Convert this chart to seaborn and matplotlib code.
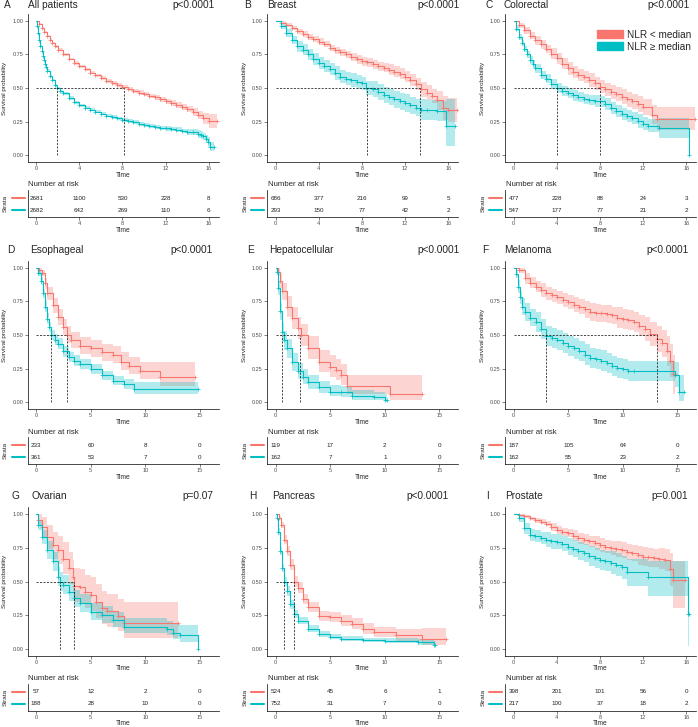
import numpy as np
import pandas as pd
import matplotlib.pyplot as plt
import seaborn as sns
from matplotlib.patches import Patch
from matplotlib.transforms import blended_transform_factory

sns.set_style('ticks')
plt.rcParams['font.family'] = ['Liberation Sans', 'DejaVu Sans']

RED = '#F8766D'
TEAL = '#00BFC4'

# ---------------- data ----------------
# A  All patients
a_red_t = [0, 0.25, 0.5, 0.75, 1, 1.25, 1.5, 1.75, 2, 2.5, 3, 3.5, 4, 4.5, 5, 5.5, 6, 6.5, 7, 7.5, 8, 8.5, 9, 9.5, 10,
           10.5, 11, 11.5, 12, 12.5, 13, 13.5, 14, 14.5, 15, 15.5, 16, 16.8]
a_red_s = [1.0, 0.975, 0.945, 0.915, 0.885, 0.86, 0.835, 0.81, 0.785, 0.75, 0.715, 0.685, 0.66, 0.64, 0.615, 0.595,
           0.575, 0.555, 0.54, 0.52, 0.505, 0.49, 0.48, 0.465, 0.455, 0.44, 0.43, 0.415, 0.40, 0.39, 0.375, 0.36,
           0.345, 0.325, 0.30, 0.275, 0.255, 0.255]
a_red_cl = [1.0, 0.969, 0.939, 0.909, 0.879, 0.85, 0.825, 0.80, 0.775, 0.74, 0.705, 0.673, 0.648, 0.628, 0.603, 0.583,
            0.563, 0.54, 0.525, 0.505, 0.49, 0.475, 0.465, 0.447, 0.437, 0.422, 0.412, 0.397, 0.382, 0.368, 0.353,
            0.338, 0.323, 0.295, 0.27, 0.235, 0.205, 0.20]
a_red_cu = [1.0, 0.981, 0.951, 0.921, 0.891, 0.87, 0.845, 0.82, 0.795, 0.76, 0.725, 0.697, 0.672, 0.652, 0.627, 0.607,
            0.587, 0.57, 0.555, 0.535, 0.52, 0.505, 0.495, 0.483, 0.473, 0.458, 0.448, 0.433, 0.418, 0.412, 0.397,
            0.382, 0.367, 0.355, 0.33, 0.315, 0.305, 0.31]
a_teal_t = [0, 0.1, 0.2, 0.3, 0.4, 0.5, 0.6, 0.7, 0.8, 0.9, 1.0, 1.25, 1.5, 1.75, 1.9, 2.25, 2.5, 3, 3.5, 4, 4.5, 5,
            5.5, 6, 6.5, 7, 7.5, 8, 8.5, 9, 9.5, 10, 10.5, 11, 11.5, 12, 12.5, 13, 13.5, 14, 14.5, 15, 15.3, 15.5,
            15.7, 15.9, 16.15, 16.5]
a_teal_s = [1.0, 0.96, 0.91, 0.86, 0.815, 0.775, 0.74, 0.71, 0.68, 0.655, 0.63, 0.59, 0.56, 0.52, 0.50, 0.475, 0.46,
            0.425, 0.395, 0.37, 0.355, 0.34, 0.325, 0.31, 0.295, 0.285, 0.275, 0.265, 0.255, 0.245, 0.235, 0.225,
            0.22, 0.21, 0.205, 0.20, 0.195, 0.19, 0.18, 0.175, 0.17, 0.16, 0.15, 0.14, 0.12, 0.10, 0.065, 0.065]
a_teal_cl = [1.0, 0.953, 0.903, 0.853, 0.808, 0.768, 0.733, 0.703, 0.673, 0.648, 0.62, 0.58, 0.55, 0.51, 0.49, 0.465,
             0.45, 0.413, 0.383, 0.358, 0.343, 0.328, 0.313, 0.298, 0.283, 0.273, 0.263, 0.25, 0.24, 0.23, 0.22, 0.21,
             0.205, 0.195, 0.19, 0.182, 0.177, 0.172, 0.162, 0.153, 0.148, 0.132, 0.122, 0.112, 0.092, 0.065, 0.03,
             0.03]
a_teal_cu = [1.0, 0.967, 0.917, 0.867, 0.822, 0.782, 0.747, 0.717, 0.687, 0.662, 0.64, 0.60, 0.57, 0.53, 0.51, 0.485,
             0.47, 0.437, 0.407, 0.382, 0.367, 0.352, 0.337, 0.322, 0.307, 0.297, 0.287, 0.28, 0.27, 0.26, 0.25, 0.24,
             0.235, 0.225, 0.22, 0.218, 0.213, 0.208, 0.198, 0.197, 0.192, 0.188, 0.178, 0.168, 0.148, 0.135, 0.10,
             0.10]

# B  Breast
b_red_t = [0, 0.5, 1, 1.5, 2, 2.5, 3, 3.5, 4, 4.5, 5, 5.5, 6, 6.5, 7, 7.5, 8, 8.5, 9, 9.5, 10, 10.5, 11, 11.5, 12,
           12.5, 13, 13.5, 14, 14.5, 15, 15.5, 16, 16.8]
b_red_s = [1.0, 0.985, 0.97, 0.945, 0.92, 0.90, 0.88, 0.865, 0.845, 0.825, 0.80, 0.78, 0.765, 0.75, 0.73, 0.715, 0.70,
           0.69, 0.675, 0.66, 0.65, 0.635, 0.62, 0.605, 0.585, 0.56, 0.53, 0.49, 0.465, 0.44, 0.41, 0.35, 0.335, 0.335]
b_red_cl = [1.0, 0.975, 0.957, 0.932, 0.90, 0.88, 0.86, 0.842, 0.822, 0.802, 0.777, 0.752, 0.737, 0.722, 0.702, 0.682,
            0.667, 0.657, 0.642, 0.627, 0.617, 0.595, 0.58, 0.565, 0.545, 0.515, 0.485, 0.435, 0.41, 0.385, 0.34, 0.26,
            0.245, 0.235]
b_red_cu = [1.0, 0.995, 0.983, 0.958, 0.94, 0.92, 0.90, 0.888, 0.868, 0.848, 0.823, 0.808, 0.793, 0.778, 0.758, 0.748,
            0.733, 0.723, 0.708, 0.693, 0.683, 0.675, 0.66, 0.645, 0.625, 0.605, 0.575, 0.545, 0.52, 0.495, 0.48, 0.44,
            0.425, 0.435]
b_teal_t = [0, 0.5, 1, 1.5, 2, 2.5, 3, 3.5, 4, 4.5, 5, 5.5, 6, 6.5, 7, 7.5, 8, 8.4, 9, 9.5, 10, 10.5, 11, 11.5, 12,
            12.5, 13, 13.5, 14, 15, 15.8, 16.6]
b_teal_s = [1.0, 0.96, 0.91, 0.86, 0.81, 0.785, 0.75, 0.715, 0.685, 0.665, 0.64, 0.61, 0.585, 0.57, 0.56, 0.545, 0.535,
            0.50, 0.49, 0.47, 0.45, 0.43, 0.415, 0.40, 0.39, 0.37, 0.355, 0.34, 0.335, 0.33, 0.22, 0.22]
b_teal_cl = [1.0, 0.94, 0.88, 0.83, 0.77, 0.745, 0.71, 0.67, 0.64, 0.62, 0.595, 0.56, 0.535, 0.52, 0.51, 0.495, 0.485,
             0.45, 0.43, 0.41, 0.39, 0.37, 0.355, 0.335, 0.325, 0.305, 0.29, 0.265, 0.26, 0.255, 0.07, 0.07]
b_teal_cu = [1.0, 0.98, 0.94, 0.89, 0.85, 0.825, 0.79, 0.76, 0.73, 0.71, 0.685, 0.66, 0.635, 0.62, 0.61, 0.595, 0.585,
             0.55, 0.55, 0.53, 0.51, 0.49, 0.475, 0.465, 0.455, 0.435, 0.42, 0.415, 0.41, 0.405, 0.42, 0.42]

# C  Colorectal
c_red_t = [0, 0.5, 1, 1.5, 2, 2.5, 3, 3.5, 4, 4.5, 5, 5.5, 6, 6.5, 7, 7.5, 8, 8.5, 9, 9.5, 10, 10.5, 11, 11.5, 12,
           12.8, 13.3, 16.8]
c_red_s = [1.0, 0.965, 0.93, 0.89, 0.855, 0.825, 0.79, 0.755, 0.72, 0.68, 0.645, 0.62, 0.595, 0.58, 0.56, 0.535, 0.51,
           0.49, 0.47, 0.455, 0.435, 0.415, 0.40, 0.38, 0.36, 0.30, 0.27, 0.27]
c_red_cl = [1.0, 0.948, 0.905, 0.865, 0.822, 0.792, 0.757, 0.713, 0.678, 0.638, 0.60, 0.575, 0.55, 0.535, 0.51, 0.485,
            0.46, 0.44, 0.42, 0.405, 0.378, 0.358, 0.343, 0.323, 0.303, 0.23, 0.19, 0.19]
c_red_cu = [1.0, 0.982, 0.955, 0.915, 0.888, 0.858, 0.823, 0.797, 0.762, 0.722, 0.69, 0.665, 0.64, 0.625, 0.61, 0.585,
            0.56, 0.54, 0.52, 0.505, 0.492, 0.472, 0.457, 0.437, 0.417, 0.37, 0.36, 0.36]
c_teal_t = [0, 0.25, 0.5, 0.75, 1, 1.25, 1.5, 1.75, 2, 2.5, 3, 3.5, 4, 4.5, 5, 5.5, 6, 6.5, 7, 7.5, 8, 8.5, 9, 9.5,
            10, 10.5, 11, 11.5, 12, 12.5, 13.5, 16.25]
c_teal_s = [1.0, 0.94, 0.88, 0.835, 0.79, 0.75, 0.71, 0.675, 0.645, 0.60, 0.57, 0.53, 0.50, 0.48, 0.46, 0.445, 0.435,
            0.42, 0.41, 0.405, 0.40, 0.38, 0.35, 0.33, 0.31, 0.29, 0.275, 0.255, 0.235, 0.22, 0.20, 0.0]
c_teal_cl = [1.0, 0.92, 0.86, 0.81, 0.765, 0.725, 0.68, 0.645, 0.615, 0.57, 0.535, 0.495, 0.465, 0.442, 0.422, 0.407,
             0.397, 0.382, 0.372, 0.362, 0.357, 0.337, 0.307, 0.285, 0.265, 0.245, 0.23, 0.205, 0.185, 0.17, 0.13,
             0.13]
c_teal_cu = [1.0, 0.96, 0.90, 0.86, 0.815, 0.775, 0.74, 0.705, 0.675, 0.63, 0.605, 0.565, 0.535, 0.518, 0.498, 0.483,
             0.473, 0.458, 0.448, 0.448, 0.443, 0.423, 0.393, 0.375, 0.355, 0.335, 0.32, 0.305, 0.285, 0.27, 0.28,
             0.28]

# D  Esophageal
d_red_t = [0, 0.3, 0.5, 0.8, 1, 1.5, 2, 2.5, 2.8, 3.2, 4, 5, 6, 7, 7.8, 8.5, 9.5, 11.3, 14.5]
d_red_s = [1.0, 0.98, 0.96, 0.885, 0.81, 0.72, 0.635, 0.56, 0.50, 0.46, 0.42, 0.40, 0.37, 0.35, 0.30, 0.27, 0.23, 0.19, 0.19]
d_red_cl = [1.0, 0.96, 0.935, 0.845, 0.76, 0.665, 0.575, 0.50, 0.44, 0.40, 0.36, 0.34, 0.31, 0.29, 0.24, 0.21, 0.17, 0.12, 0.12]
d_red_cu = [1.0, 1.0, 0.985, 0.925, 0.86, 0.775, 0.695, 0.62, 0.565, 0.525, 0.485, 0.465, 0.435, 0.415, 0.37, 0.34, 0.30, 0.30, 0.30]
d_teal_t = [0, 0.2, 0.4, 0.6, 0.8, 1, 1.2, 1.4, 1.7, 2, 2.5, 3, 3.5, 4, 5, 6, 7, 8, 9, 14.8]
d_teal_s = [1.0, 0.96, 0.90, 0.81, 0.71, 0.62, 0.56, 0.50, 0.465, 0.435, 0.38, 0.335, 0.31, 0.285, 0.25, 0.20, 0.16, 0.135, 0.10, 0.10]
d_teal_cl = [1.0, 0.94, 0.87, 0.775, 0.67, 0.58, 0.52, 0.46, 0.425, 0.395, 0.34, 0.297, 0.272, 0.248, 0.213, 0.165, 0.127, 0.10, 0.065, 0.065]
d_teal_cu = [1.0, 0.98, 0.93, 0.845, 0.75, 0.66, 0.60, 0.54, 0.505, 0.475, 0.42, 0.373, 0.348, 0.322, 0.287, 0.235, 0.193, 0.17, 0.15, 0.15]

# E  Hepatocellular
e_red_t = [0, 0.2, 0.4, 0.6, 1, 1.5, 2, 2.3, 3, 4, 5, 5.5, 6, 6.5, 10.5, 13.4]
e_red_s = [1.0, 0.97, 0.90, 0.825, 0.71, 0.625, 0.55, 0.50, 0.40, 0.30, 0.265, 0.24, 0.20, 0.12, 0.06, 0.06]
e_red_cl = [1.0, 0.94, 0.85, 0.76, 0.635, 0.545, 0.47, 0.42, 0.32, 0.225, 0.19, 0.165, 0.13, 0.06, 0.02, 0.02]
e_red_cu = [1.0, 1.0, 0.95, 0.89, 0.79, 0.71, 0.635, 0.585, 0.49, 0.385, 0.35, 0.325, 0.285, 0.20, 0.20, 0.20]
e_teal_t = [0, 0.1, 0.2, 0.4, 0.6, 0.8, 1, 1.5, 2, 2.5, 3, 4, 5, 6, 7, 9, 10, 10.2]
e_teal_s = [1.0, 0.97, 0.85, 0.675, 0.525, 0.46, 0.40, 0.30, 0.23, 0.19, 0.15, 0.115, 0.08, 0.075, 0.05, 0.04, 0.02, 0.02]
e_teal_cl = [1.0, 0.945, 0.80, 0.61, 0.455, 0.39, 0.33, 0.235, 0.17, 0.135, 0.10, 0.07, 0.045, 0.04, 0.02, 0.015, 0.005, 0.005]
e_teal_cu = [1.0, 0.995, 0.90, 0.74, 0.595, 0.53, 0.47, 0.365, 0.29, 0.245, 0.20, 0.16, 0.125, 0.12, 0.09, 0.08, 0.06, 0.06]

# F  Melanoma
f_red_t = [0, 0.5, 1, 1.5, 2, 2.5, 3, 3.5, 4, 4.5, 5, 5.5, 6, 6.5, 7, 7.5, 8, 8.5, 9, 9.5, 10, 10.5, 11, 11.5, 12,
           12.5, 13.1, 13.6, 14, 14.3, 14.6, 14.8]
f_red_s = [1.0, 0.98, 0.92, 0.89, 0.86, 0.835, 0.81, 0.795, 0.78, 0.76, 0.745, 0.725, 0.71, 0.69, 0.67, 0.665, 0.66,
           0.655, 0.645, 0.63, 0.62, 0.61, 0.595, 0.57, 0.545, 0.51, 0.47, 0.44, 0.38, 0.31, 0.21, 0.21]
f_red_cl = [1.0, 0.96, 0.88, 0.85, 0.82, 0.785, 0.76, 0.745, 0.73, 0.705, 0.69, 0.67, 0.655, 0.625, 0.605, 0.60, 0.595,
            0.59, 0.58, 0.555, 0.545, 0.535, 0.52, 0.495, 0.455, 0.42, 0.37, 0.34, 0.27, 0.19, 0.06, 0.06]
f_red_cu = [1.0, 1.0, 0.96, 0.93, 0.90, 0.885, 0.86, 0.845, 0.83, 0.815, 0.80, 0.78, 0.765, 0.755, 0.735, 0.73, 0.725,
            0.72, 0.71, 0.705, 0.695, 0.685, 0.67, 0.645, 0.635, 0.60, 0.57, 0.54, 0.49, 0.43, 0.35, 0.35]
f_teal_t = [0, 0.2, 0.4, 0.6, 0.8, 1, 1.5, 2, 2.5, 3, 3.5, 4, 4.5, 5, 5.5, 6, 6.5, 7, 7.5, 8, 8.5, 9, 9.5, 10, 10.5,
            11, 14.8, 15.1, 15.6]
f_teal_s = [1.0, 0.95, 0.86, 0.78, 0.71, 0.67, 0.63, 0.595, 0.545, 0.495, 0.475, 0.46, 0.44, 0.42, 0.40, 0.38, 0.355,
            0.33, 0.32, 0.31, 0.29, 0.27, 0.255, 0.245, 0.235, 0.23, 0.20, 0.08, 0.08]
f_teal_cl = [1.0, 0.92, 0.81, 0.73, 0.645, 0.605, 0.565, 0.52, 0.47, 0.42, 0.40, 0.385, 0.365, 0.345, 0.325, 0.305,
             0.28, 0.255, 0.245, 0.235, 0.215, 0.195, 0.18, 0.17, 0.16, 0.155, 0.11, 0.01, 0.01]
f_teal_cu = [1.0, 0.98, 0.91, 0.83, 0.775, 0.735, 0.695, 0.67, 0.62, 0.57, 0.55, 0.535, 0.515, 0.495, 0.475, 0.455,
             0.43, 0.405, 0.395, 0.385, 0.365, 0.345, 0.33, 0.32, 0.31, 0.31, 0.30, 0.20, 0.20]

# G  Ovarian
g_red_t = [0, 0.2, 0.5, 1, 1.5, 2, 2.5, 3, 3.4, 3.5, 4, 4.5, 5, 5.5, 6, 6.5, 7.5, 8, 13]
g_red_s = [1.0, 0.96, 0.905, 0.83, 0.77, 0.735, 0.67, 0.60, 0.535, 0.47, 0.46, 0.42, 0.40, 0.35, 0.30, 0.28, 0.24, 0.19, 0.19]
g_red_cl = [1.0, 0.91, 0.83, 0.74, 0.67, 0.63, 0.555, 0.48, 0.415, 0.35, 0.34, 0.30, 0.28, 0.23, 0.185, 0.165, 0.13, 0.08, 0.08]
g_red_cu = [1.0, 1.0, 0.98, 0.92, 0.87, 0.84, 0.79, 0.72, 0.66, 0.60, 0.59, 0.55, 0.53, 0.48, 0.43, 0.41, 0.37, 0.35, 0.35]
g_teal_t = [0, 0.2, 0.5, 1, 1.5, 2, 2.2, 2.5, 3, 3.5, 4, 5, 6, 7, 8, 12, 12.5, 13.2, 14.8]
g_teal_s = [1.0, 0.92, 0.83, 0.735, 0.65, 0.535, 0.50, 0.475, 0.425, 0.375, 0.34, 0.275, 0.25, 0.215, 0.165, 0.15, 0.12, 0.10, 0.0]
g_teal_cl = [1.0, 0.88, 0.775, 0.67, 0.58, 0.465, 0.43, 0.405, 0.355, 0.31, 0.275, 0.215, 0.19, 0.16, 0.115, 0.10, 0.07, 0.05, 0.05]
g_teal_cu = [1.0, 0.96, 0.885, 0.80, 0.72, 0.605, 0.57, 0.545, 0.495, 0.44, 0.405, 0.34, 0.315, 0.275, 0.225, 0.21, 0.185, 0.18, 0.18]

# H  Pancreas
h_red_t = [0, 0.3, 0.5, 0.8, 1, 1.3, 1.7, 2, 2.5, 3, 4, 5, 6, 7, 8, 9, 11, 13.4, 15.6]
h_red_s = [1.0, 0.97, 0.92, 0.81, 0.725, 0.625, 0.50, 0.455, 0.37, 0.31, 0.245, 0.235, 0.21, 0.185, 0.15, 0.125, 0.10, 0.07, 0.07]
h_red_cl = [1.0, 0.955, 0.897, 0.778, 0.688, 0.585, 0.458, 0.413, 0.33, 0.272, 0.208, 0.197, 0.172, 0.145, 0.11, 0.085, 0.055, 0.03, 0.03]
h_red_cu = [1.0, 0.985, 0.943, 0.842, 0.762, 0.665, 0.542, 0.497, 0.41, 0.348, 0.282, 0.273, 0.248, 0.225, 0.19, 0.165, 0.15, 0.155, 0.155]
h_teal_t = [0, 0.1, 0.2, 0.4, 0.6, 0.8, 1, 1.3, 1.7, 2, 3, 4, 5, 6, 8, 10, 13, 14.5, 14.6]
h_teal_s = [1.0, 0.97, 0.87, 0.725, 0.60, 0.50, 0.43, 0.33, 0.255, 0.21, 0.15, 0.11, 0.09, 0.075, 0.065, 0.06, 0.05, 0.03, 0.03]
h_teal_cl = [1.0, 0.957, 0.845, 0.695, 0.567, 0.465, 0.395, 0.298, 0.225, 0.182, 0.125, 0.088, 0.07, 0.057, 0.047, 0.042, 0.03, 0.01, 0.01]
h_teal_cu = [1.0, 0.983, 0.895, 0.755, 0.633, 0.535, 0.465, 0.362, 0.285, 0.238, 0.175, 0.132, 0.11, 0.093, 0.083, 0.078, 0.075, 0.06, 0.06]

# I  Prostate
i_red_t = [0, 0.5, 1, 1.5, 2, 2.5, 3, 3.5, 4, 4.5, 5, 5.5, 6, 6.5, 7, 7.5, 8, 8.5, 9, 9.5, 10, 10.5, 11, 11.5, 12,
           12.5, 13, 13.5, 14, 14.5, 14.8, 15.9]
i_red_s = [1.0, 0.995, 0.985, 0.97, 0.955, 0.945, 0.93, 0.905, 0.88, 0.87, 0.86, 0.84, 0.82, 0.81, 0.80, 0.785, 0.77,
           0.76, 0.75, 0.74, 0.735, 0.72, 0.71, 0.695, 0.685, 0.68, 0.675, 0.67, 0.66, 0.59, 0.51, 0.51]
i_red_cl = [1.0, 0.988, 0.973, 0.958, 0.935, 0.925, 0.91, 0.875, 0.85, 0.84, 0.83, 0.80, 0.78, 0.77, 0.76, 0.735, 0.72,
            0.71, 0.70, 0.68, 0.675, 0.66, 0.65, 0.625, 0.615, 0.61, 0.605, 0.59, 0.58, 0.47, 0.30, 0.30]
i_red_cu = [1.0, 1.0, 0.997, 0.982, 0.975, 0.965, 0.95, 0.935, 0.91, 0.90, 0.89, 0.88, 0.86, 0.85, 0.84, 0.835, 0.82,
            0.81, 0.80, 0.80, 0.795, 0.78, 0.77, 0.765, 0.755, 0.75, 0.745, 0.75, 0.74, 0.71, 0.65, 0.65]
i_teal_t = [0, 0.5, 1, 1.5, 2, 2.5, 3, 3.5, 4, 4.5, 5, 5.5, 6, 6.5, 7, 7.5, 8, 8.5, 9, 9.5, 10, 10.5, 12.5, 16.2, 16.3]
i_teal_s = [1.0, 0.97, 0.895, 0.845, 0.835, 0.82, 0.81, 0.80, 0.795, 0.78, 0.76, 0.745, 0.725, 0.71, 0.69, 0.675, 0.66,
            0.65, 0.64, 0.625, 0.605, 0.57, 0.53, 0.26, 0.26]
i_teal_cl = [1.0, 0.945, 0.855, 0.80, 0.79, 0.775, 0.755, 0.745, 0.74, 0.725, 0.695, 0.68, 0.66, 0.645, 0.615, 0.60,
             0.585, 0.575, 0.555, 0.54, 0.52, 0.47, 0.39, 0.02, 0.02]
i_teal_cu = [1.0, 0.995, 0.935, 0.89, 0.88, 0.865, 0.865, 0.855, 0.85, 0.835, 0.825, 0.81, 0.79, 0.775, 0.765, 0.75,
             0.735, 0.725, 0.725, 0.71, 0.69, 0.67, 0.65, 0.50, 0.50]

# number at risk (red row, teal row)
a_risk = [[2681, 1100, 530, 228, 8], [2682, 642, 269, 110, 6]]
b_risk = [[686, 377, 216, 99, 5], [293, 150, 77, 42, 2]]
c_risk = [[477, 228, 88, 24, 3], [547, 177, 77, 21, 2]]
d_risk = [[233, 60, 8, 0], [361, 53, 7, 0]]
e_risk = [[119, 17, 2, 0], [162, 7, 1, 0]]
f_risk = [[187, 105, 64, 0], [162, 55, 23, 2]]
g_risk = [[57, 12, 2, 0], [188, 28, 10, 0]]
h_risk = [[524, 45, 6, 1], [752, 31, 7, 0]]
i_risk = [[398, 201, 101, 56, 0], [217, 100, 37, 18, 2]]

# median survival (red, teal)
medians = [(8.1, 1.9), (13.4, 8.45), (8.0, 4.0), (2.8, 1.4), (2.2, 0.62),
           (13.1, 2.95), (3.42, 2.18), (1.7, 0.8), None]

letters = ['A', 'B', 'C', 'D', 'E', 'F', 'G', 'H', 'I']
titles = ['All patients', 'Breast', 'Colorectal', 'Esophageal', 'Hepatocellular',
          'Melanoma', 'Ovarian', 'Pancreas', 'Prostate']
pvals = ['p<0.0001', 'p<0.0001', 'p<0.0001', 'p<0.0001', 'p<0.0001',
         'p<0.0001', 'p=0.07', 'p<0.0001', 'p=0.001']
ticks16 = [0, 4, 8, 12, 16]
ticks15 = [0, 5, 10, 15]

curves = [
    ((a_red_t, a_red_s, a_red_cl, a_red_cu), (a_teal_t, a_teal_s, a_teal_cl, a_teal_cu), a_risk, ticks16),
    ((b_red_t, b_red_s, b_red_cl, b_red_cu), (b_teal_t, b_teal_s, b_teal_cl, b_teal_cu), b_risk, ticks16),
    ((c_red_t, c_red_s, c_red_cl, c_red_cu), (c_teal_t, c_teal_s, c_teal_cl, c_teal_cu), c_risk, ticks16),
    ((d_red_t, d_red_s, d_red_cl, d_red_cu), (d_teal_t, d_teal_s, d_teal_cl, d_teal_cu), d_risk, ticks15),
    ((e_red_t, e_red_s, e_red_cl, e_red_cu), (e_teal_t, e_teal_s, e_teal_cl, e_teal_cu), e_risk, ticks15),
    ((f_red_t, f_red_s, f_red_cl, f_red_cu), (f_teal_t, f_teal_s, f_teal_cl, f_teal_cu), f_risk, ticks15),
    ((g_red_t, g_red_s, g_red_cl, g_red_cu), (g_teal_t, g_teal_s, g_teal_cl, g_teal_cu), g_risk, ticks15),
    ((h_red_t, h_red_s, h_red_cl, h_red_cu), (h_teal_t, h_teal_s, h_teal_cl, h_teal_cu), h_risk, ticks15),
    ((i_red_t, i_red_s, i_red_cl, i_red_cu), (i_teal_t, i_teal_s, i_teal_cl, i_teal_cu), i_risk, ticks16),
]

# ---------------- layout (pixels) ----------------
W, H = 698, 727
col_x = [27.5, 267, 505]
ax_w = 191
row_off = [0, 247, 493.5]
letter_x = [[4, 244, 485], [7, 247, 482], [12, 249, 486]]
title_x = [[28, 267, 504], [30, 269, 504], [32, 272, 505]]
pval_x = [[215, 460, 690], [213, 460, 689], [213, 449, 688]]
title_y = [7.5, 252.7, 499.3]


def box(left, top, w, h):
    return [left / W, 1 - (top + h) / H, w / W, h / H]


def km(ax, t, s, cl, cu, color):
    ax.fill_between(t, cl, cu, step='post', color=color, alpha=0.3, lw=0)
    sns.lineplot(x=t, y=s, drawstyle='steps-post', color=color, lw=0.8,
                 estimator=None, sort=False, ax=ax)
    ax.plot(t[1:], s[1:], ls='none', marker='+', ms=3, mew=0.5, color=color)


def style_axis(ax):
    sns.despine(ax=ax)
    for sp in ['left', 'bottom']:
        ax.spines[sp].set_linewidth(0.5)
        ax.spines[sp].set_color('black')
    ax.tick_params(labelsize=4, length=2, width=0.5, pad=1, colors='#4d4d4d')


fig = plt.figure(figsize=(W / 100, H / 100), dpi=100)

for k in range(9):
    r, c = divmod(k, 3)
    red, teal, risk, ticks = curves[k]
    xmax = 16.1 if ticks is ticks16 else 15.9
    xlim = (-0.05 * xmax, 1.05 * xmax)
    left = col_x[c]
    off = row_off[r]

    # survival curves
    ax = fig.add_axes(box(left, 14 + off, ax_w, 148))
    km(ax, *red, RED)
    km(ax, *teal, TEAL)
    med = medians[k]
    if med is not None:
        ax.plot([0, max(med)], [0.5, 0.5], ls=(0, (3, 2)), color='black', lw=0.5)
        for m in med:
            ax.plot([m, m], [0, 0.5], ls=(0, (3, 2)), color='black', lw=0.5)
    ax.set_xlim(*xlim)
    ax.set_ylim(-0.05, 1.05)
    ax.set_xticks(ticks)
    ax.set_yticks([0, 0.25, 0.5, 0.75, 1.0])
    ax.set_yticklabels(['0.00', '0.25', '0.50', '0.75', '1.00'])
    style_axis(ax)
    ax.set_xlabel('Time', fontsize=4.8, labelpad=0.5)
    ax.set_ylabel('Survival probability', fontsize=4.6, labelpad=0)
    ax.yaxis.set_label_coords(-20 / ax_w, 0.5)

    # risk table
    tb = fig.add_axes(box(left, 190 + off, ax_w, 27))
    tb.set_xlim(*xlim)
    tb.set_ylim(-0.58, 1.67)
    tb.set_xticks(ticks)
    tb.set_yticks([])
    style_axis(tb)
    tb.set_xlabel('Time', fontsize=4.8, labelpad=0.5)
    for row, yv in zip(risk, [1, 0]):
        for tt, n in zip(ticks, row):
            tb.text(tt, yv, str(n), ha='center', va='center', fontsize=4.5, color='#222222')
    trans = blended_transform_factory(tb.transAxes, tb.transData)
    tb.plot([-16 / ax_w, -3 / ax_w], [1, 1], transform=trans, clip_on=False, color=RED, lw=1.5)
    tb.plot([-16 / ax_w, -3 / ax_w], [0, 0], transform=trans, clip_on=False, color=TEAL, lw=1.5)
    tb.text(-22 / ax_w, 0.5, 'Strata', rotation=90, transform=tb.transAxes,
            ha='center', va='center', fontsize=4.6)
    fig.text((left + 0.5) / W, 1 - (185 + off) / H, 'Number at risk',
             ha='left', va='center', fontsize=5.6)

    # panel header
    ty = 1 - title_y[r] / H
    fig.text(letter_x[r][c] / W, ty, letters[k], fontsize=7.3, va='baseline')
    fig.text(title_x[r][c] / W, ty, titles[k], fontsize=7.3, va='baseline')
    fig.text(pval_x[r][c] / W, ty, pvals[k], fontsize=7.3, va='baseline', ha='right')

handles = [Patch(color=RED), Patch(color=TEAL)]
fig.legend(handles, ['NLR < median', 'NLR \u2265 median'], loc='upper left',
           bbox_to_anchor=(597 / W, 1 - 29.5 / H), frameon=False, fontsize=7.2,
           handlelength=2.6, handleheight=0.8, handletextpad=0.4, labelspacing=0.2,
           borderpad=0, borderaxespad=0)

fig.savefig('out.png', dpi=100)
